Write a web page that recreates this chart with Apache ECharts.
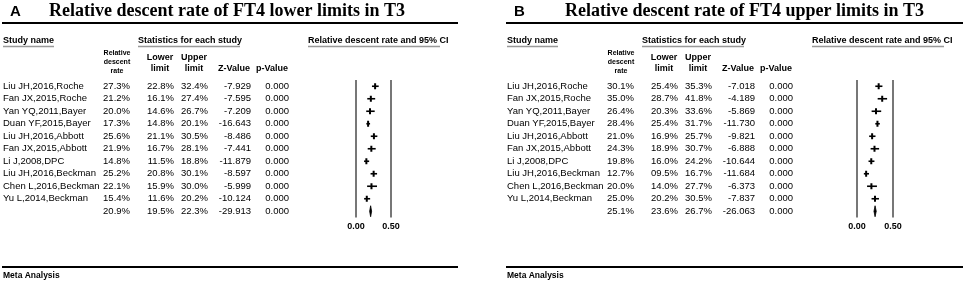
<!DOCTYPE html>
<html>
<head>
<meta charset="utf-8">
<script src="https://cdn.jsdelivr.net/npm/echarts@6/dist/echarts.min.js"></script>
<style>
  html, body { margin: 0; padding: 0; background: #fff; }
  #chart { width: 964px; height: 283px; }
</style>
</head>
<body>
<div id="chart"></div>
<script>
const studies = ['Liu JH,2016,Roche', 'Fan JX,2015,Roche', 'Yan YQ,2011,Bayer', 'Duan YF,2015,Bayer',
  'Liu JH,2016,Abbott', 'Fan JX,2015,Abbott', 'Li J,2008,DPC', 'Liu JH,2016,Beckman',
  'Chen L,2016,Beckman', 'Yu L,2014,Beckman', ''];

// panel A: FT4 lower limits (last entry = pooled)
const rateA = [27.3, 21.2, 20.0, 17.3, 25.6, 21.9, 14.8, 25.2, 22.1, 15.4, 20.9];
const lowerA = [22.8, 16.1, 14.6, 14.8, 21.1, 16.7, 11.5, 20.8, 15.9, 11.6, 19.5];
const upperA = [32.4, 27.4, 26.7, 20.1, 30.5, 28.1, 18.8, 30.1, 30.0, 20.2, 22.3];
const zA = [-7.929, -7.595, -7.209, -16.643, -8.486, -7.441, -11.879, -8.597, -5.999, -10.124, -29.913];
const pA = [0, 0, 0, 0, 0, 0, 0, 0, 0, 0, 0];

// panel B: FT4 upper limits
const rateB = [30.1, 35.0, 26.4, 28.4, 21.0, 24.3, 19.8, 12.7, 20.0, 25.0, 25.1];
const lowerB = [25.4, 28.7, 20.3, 25.4, 16.9, 18.9, 16.0, 9.5, 14.0, 20.2, 23.6];
const upperB = [35.3, 41.8, 33.6, 31.7, 25.7, 30.7, 24.2, 16.7, 27.7, 30.5, 26.7];
const zB = [-7.018, -4.189, -5.869, -11.730, -9.821, -6.888, -10.644, -11.684, -6.373, -7.837, -26.063];
const pB = [0, 0, 0, 0, 0, 0, 0, 0, 0, 0, 0];

const axisTicks = [0, 0.5];

const SANS = 'Arial, "Liberation Sans", sans-serif';
const pct = v => (v < 10 ? '0' : '') + v.toFixed(1) + '%';

function textAxis(grid, data, offset, align) {
  return {
    type: 'category', gridIndex: grid, position: 'left', offset: offset, inverse: true,
    data: data,
    axisLine: { show: false }, axisTick: { show: false }, splitLine: { show: false },
    axisLabel: { interval: 0, margin: 0, align: align || 'right', color: '#000', fontFamily: SANS, fontSize: 9.5 }
  };
}

function renderForest(params, api) {
  const row = api.value(3);
  const est = api.coord([api.value(0), row]);
  const lo = api.coord([api.value(1), row]);
  const hi = api.coord([api.value(2), row]);
  if (row === studies.length - 1) {
    return {
      type: 'polygon',
      shape: { points: [[lo[0], est[1]], [est[0], est[1] - 5.5], [hi[0], est[1]], [est[0], est[1] + 5.5]] },
      style: { fill: '#000', stroke: '#000', lineWidth: 0.8 }
    };
  }
  return {
    type: 'group',
    children: [
      { type: 'line', shape: { x1: lo[0], y1: est[1], x2: hi[0], y2: est[1] }, style: { stroke: '#000', lineWidth: 1.6 } },
      { type: 'rect', shape: { x: est[0] - 1, y: est[1] - 3, width: 2, height: 6 }, style: { fill: '#000' } }
    ]
  };
}

function panel(g, x0, gridLeft, gridWidth, rate, lower, upper, z, p) {
  const base = g * 6;
  const yAxes = [
    textAxis(g, studies, gridLeft - x0, 'left'),
    textAxis(g, rate.map(pct), gridLeft - (x0 + 127)),
    textAxis(g, lower.map(pct), gridLeft - (x0 + 171)),
    textAxis(g, upper.map(pct), gridLeft - (x0 + 205)),
    textAxis(g, z.map(v => v.toFixed(3)), gridLeft - (x0 + 248)),
    textAxis(g, p.map(v => v.toFixed(3)), gridLeft - (x0 + 286))
  ];
  return {
    grid: { left: gridLeft, top: 80, width: gridWidth, height: 137.5 },
    xAxis: {
      type: 'value', gridIndex: g, min: axisTicks[0], max: axisTicks[1], interval: axisTicks[1] - axisTicks[0],
      axisLine: { show: false }, axisTick: { show: false },
      axisLabel: { margin: 5, color: '#000', fontWeight: 'bold', fontFamily: SANS, fontSize: 9, formatter: v => v.toFixed(2) },
      splitLine: { show: true, showMinLine: true, showMaxLine: true, lineStyle: { color: '#555', width: 1.6 } }
    },
    yAxes: yAxes,
    series: {
      type: 'custom', xAxisIndex: g, yAxisIndex: base,
      renderItem: renderForest,
      encode: { x: [0, 1, 2], y: 3 },
      data: rate.map((v, i) => [v / 100, lower[i] / 100, upper[i] / 100, i]),
      silent: true
    }
  };
}

function txt(x, y, text, font, align) {
  return { type: 'text', silent: true, style: { x: x, y: y, text: text, font: font, fill: '#000',
    textAlign: align || 'left', align: align || 'left', textVerticalAlign: 'middle', verticalAlign: 'middle' } };
}
function hline(x1, x2, y, color, width) {
  return { type: 'line', silent: true, shape: { x1: x1, y1: y, x2: x2, y2: y }, style: { stroke: color, lineWidth: width } };
}

function headers(x0, letter, title, titleX, lineEnd) {
  const b9 = 'bold 9px ' + SANS;
  const b7 = 'bold 7px ' + SANS;
  return [
    txt(x0 + 7, 12, letter, 'bold 15px ' + SANS),
    txt(titleX, 11.5, title, 'bold 18px "Liberation Serif", "Times New Roman", serif'),
    hline(x0 - 1, lineEnd, 23, '#000', 2),
    txt(x0, 41, 'Study name', b9),
    hline(x0, x0 + 51, 46.5, '#999', 1.5),
    txt(x0 + 135, 41, 'Statistics for each study', b9),
    hline(x0 + 135, x0 + 237, 46.5, '#999', 1.5),
    txt(x0 + 305, 41, 'Relative descent rate and 95% CI', b9),
    hline(x0 + 305, x0 + 437, 46.5, '#999', 1.5),
    txt(x0 + 114, 53, 'Relative', b7, 'center'),
    txt(x0 + 114, 62, 'descent', b7, 'center'),
    txt(x0 + 114, 71, 'rate', b7, 'center'),
    txt(x0 + 157, 58, 'Lower', b9, 'center'),
    txt(x0 + 157, 69, 'limit', b9, 'center'),
    txt(x0 + 191, 58, 'Upper', b9, 'center'),
    txt(x0 + 191, 69, 'limit', b9, 'center'),
    txt(x0 + 247, 69, 'Z-Value', b9, 'right'),
    txt(x0 + 285, 69, 'p-Value', b9, 'right'),
    hline(x0 - 1, lineEnd, 267, '#000', 2),
    txt(x0, 276, 'Meta Analysis', 'bold 8.5px ' + SANS)
  ];
}

const pa = panel(0, 3, 356, 35, rateA, lowerA, upperA, zA, pA);
const pb = panel(1, 507, 857, 36, rateB, lowerB, upperB, zB, pB);

const chart = echarts.init(document.getElementById('chart'), null, { renderer: 'canvas' });
chart.setOption({
  animation: false,
  backgroundColor: '#fff',
  grid: [pa.grid, pb.grid],
  xAxis: [pa.xAxis, pb.xAxis],
  yAxis: pa.yAxes.concat(pb.yAxes),
  series: [pa.series, pb.series],
  graphic: headers(3, 'A', 'Relative descent rate of FT4 lower limits in T3', 49, 458)
    .concat(headers(507, 'B', 'Relative descent rate of FT4 upper limits in T3', 565, 963))
});
</script>
</body>
</html>
